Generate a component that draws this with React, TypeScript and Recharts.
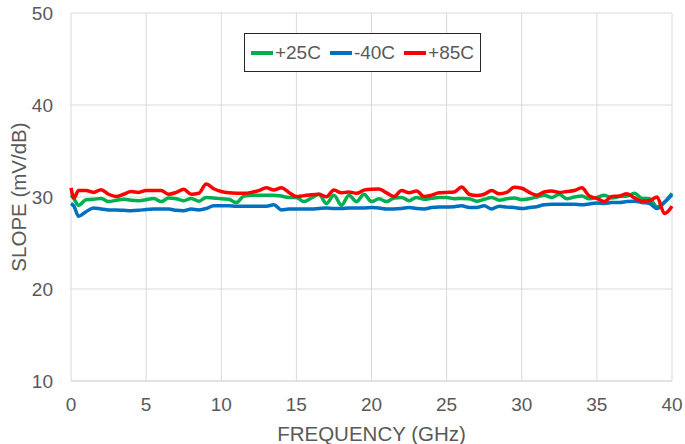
import { CartesianGrid, Legend, Line, LineChart, XAxis, YAxis } from "recharts";

// frequency points (GHz)
const freq = [
  0, 0.2, 0.5, 1, 1.5, 2, 2.5, 3, 3.5, 4, 4.5, 5, 5.5, 6, 6.5, 7, 7.5, 8, 8.5, 9, 9.5, 10,
  10.5, 11, 11.5, 12, 12.5, 13, 13.5, 14, 14.5, 15, 15.5, 16, 16.5, 17, 17.5, 18, 18.5, 19,
  19.5, 20, 20.5, 21, 21.5, 22, 22.5, 23, 23.5, 24, 24.5, 25, 25.5, 26, 26.5, 27, 27.5, 28,
  28.5, 29, 29.5, 30, 30.5, 31, 31.5, 32, 32.5, 33, 33.5, 34, 34.5, 35, 35.5, 36, 36.5, 37,
  37.5, 38, 38.5, 39, 39.5, 40,
];

const slope25 = [
  30.2, 29.8, 29.1, 29.7, 29.75, 29.85, 29.5, 29.65, 29.75, 29.65, 29.6, 29.7, 29.85, 29.5,
  29.9, 29.8, 29.6, 29.85, 29.55, 29.95, 29.9, 29.8, 29.75, 29.4, 30.1, 30.2, 30.2, 30.2,
  30.2, 30.1, 29.95, 29.95, 29.5, 29.9, 30.3, 29.3, 30.2, 29.1, 30.2, 29.5, 30.3, 29.5, 29.8,
  29.5, 29.9, 29.95, 29.6, 29.95, 29.75, 29.85, 29.95, 29.95, 29.8, 29.85, 29.8, 29.55,
  29.75, 29.95, 29.65, 29.8, 29.9, 29.7, 29.8, 30.0, 30.2, 29.95, 30.3, 29.8, 30.0, 30.1,
  29.8, 29.95, 30.2, 29.9, 30.05, 30.1, 30.4, 29.85, 29.8, 28.95, 29.4, 30.4,
];

const slopeM40 = [
  29.3, 29.0, 27.9, 28.4, 28.8, 28.7, 28.6, 28.6, 28.55, 28.5, 28.55, 28.65, 28.7, 28.7,
  28.7, 28.55, 28.5, 28.7, 28.6, 28.75, 29.05, 29.05, 29.05, 29.0, 29.0, 29.0, 29.0, 29.0,
  29.15, 28.6, 28.7, 28.7, 28.7, 28.7, 28.75, 28.8, 28.75, 28.75, 28.8, 28.8, 28.8, 28.85,
  28.8, 28.7, 28.7, 28.75, 28.85, 28.75, 28.7, 28.85, 28.9, 28.9, 28.95, 29.05, 28.85, 28.85,
  29.05, 28.7, 29.0, 28.9, 28.85, 28.75, 28.85, 28.95, 29.15, 29.2, 29.2, 29.2, 29.2, 29.15,
  29.25, 29.35, 29.3, 29.4, 29.4, 29.5, 29.55, 29.4, 29.3, 28.75, 29.45, 30.25,
];

const slope85 = [
  31.0, 29.9, 30.7, 30.7, 30.5, 30.8, 30.3, 30.05, 30.3, 30.6, 30.5, 30.7, 30.7, 30.7, 30.3,
  30.5, 30.85, 30.3, 30.4, 31.4, 30.9, 30.6, 30.45, 30.4, 30.4, 30.5, 30.7, 31.0, 30.75, 31.0,
  30.5, 30.05, 30.15, 30.25, 30.3, 30.03, 30.75, 30.45, 30.55, 30.4, 30.75, 30.85, 30.87,
  30.45, 30.05, 30.7, 30.45, 30.65, 30.05, 30.2, 30.45, 30.5, 30.55, 31.1, 30.3, 30.15, 30.3,
  30.7, 30.35, 30.5, 31.05, 30.95, 30.5, 30.2, 30.55, 30.65, 30.5, 30.6, 30.7, 31.0, 30.1,
  29.85, 29.5, 30.05, 30.1, 30.35, 29.9, 29.55, 29.6, 30.0, 28.2, 29.0,
];

const seriesNames = ["+25C", "-40C", "+85C"];
const xTicks = [0, 5, 10, 15, 20, 25, 30, 35, 40];
const yTicks = [10, 20, 30, 40, 50];

const data = freq.map((f, i) => ({
  f,
  p25: slope25[i],
  m40: slopeM40[i],
  p85: slope85[i],
}));

const FONT = "'Liberation Sans', Arial, sans-serif";
const TEXT = "#595959";

function LegendBox({ payload }: any) {
  const items = [...(payload || [])].sort(
    (a: any, b: any) => seriesNames.indexOf(a.value) - seriesNames.indexOf(b.value)
  );
  return (
    <div
      style={{
        border: "1px solid #262626",
        background: "#fff",
        width: 235,
        height: 37,
        display: "flex",
        alignItems: "center",
        justifyContent: "center",
        fontFamily: FONT,
        fontSize: 19,
        color: TEXT,
      }}
    >
      {items.map((p: any, i: number) => (
        <span
          key={p.value}
          style={{ display: "flex", alignItems: "center", marginRight: i < items.length - 1 ? 9 : 0 }}
        >
          <span style={{ width: 22, height: 4, background: p.color, display: "inline-block", marginRight: 2 }} />
          {p.value}
        </span>
      ))}
    </div>
  );
}

export default function App() {
  return (
    <div style={{ position: "absolute", left: 0, top: 0 }}>
      <LineChart
        width={685}
        height={444}
        data={data}
        margin={{ top: 13, right: 13, bottom: 0, left: 0 }}
        style={{ fontFamily: FONT }}
      >
        <CartesianGrid stroke="#d9d9d9" strokeWidth={1} />
        <XAxis
          dataKey="f"
          type="number"
          domain={[0, 40]}
          ticks={xTicks}
          height={63}
          tickLine={false}
          axisLine={{ stroke: "#d9d9d9" }}
          tick={{ fill: TEXT, fontSize: 19 }}
          tickMargin={11}
          label={{ value: "FREQUENCY (GHz)", position: "insideBottom", offset: 3, fill: TEXT, fontSize: 20.5 }}
        />
        <YAxis
          type="number"
          domain={[10, 50]}
          ticks={yTicks}
          width={71}
          tickLine={false}
          axisLine={false}
          tick={{ fill: TEXT, fontSize: 19 }}
          tickMargin={12}
          label={{ value: "SLOPE (mV/dB)", angle: -90, position: "insideLeft", offset: 19, fill: TEXT, fontSize: 20.5, style: { textAnchor: "middle" } }}
        />
        <Legend
          layout="horizontal"
          verticalAlign="middle"
          align="center"
          content={<LegendBox />}
          wrapperStyle={{ position: "absolute", left: 244, top: 33, width: 237, height: 39 }}
        />
        <Line type="monotone" dataKey="p25" name="+25C" stroke="#00B050" strokeWidth={3.5} dot={false} isAnimationActive={false} />
        <Line type="monotone" dataKey="m40" name="-40C" stroke="#0070C0" strokeWidth={3.5} dot={false} isAnimationActive={false} />
        <Line type="monotone" dataKey="p85" name="+85C" stroke="#FF0000" strokeWidth={3.5} dot={false} isAnimationActive={false} />
      </LineChart>
    </div>
  );
}
